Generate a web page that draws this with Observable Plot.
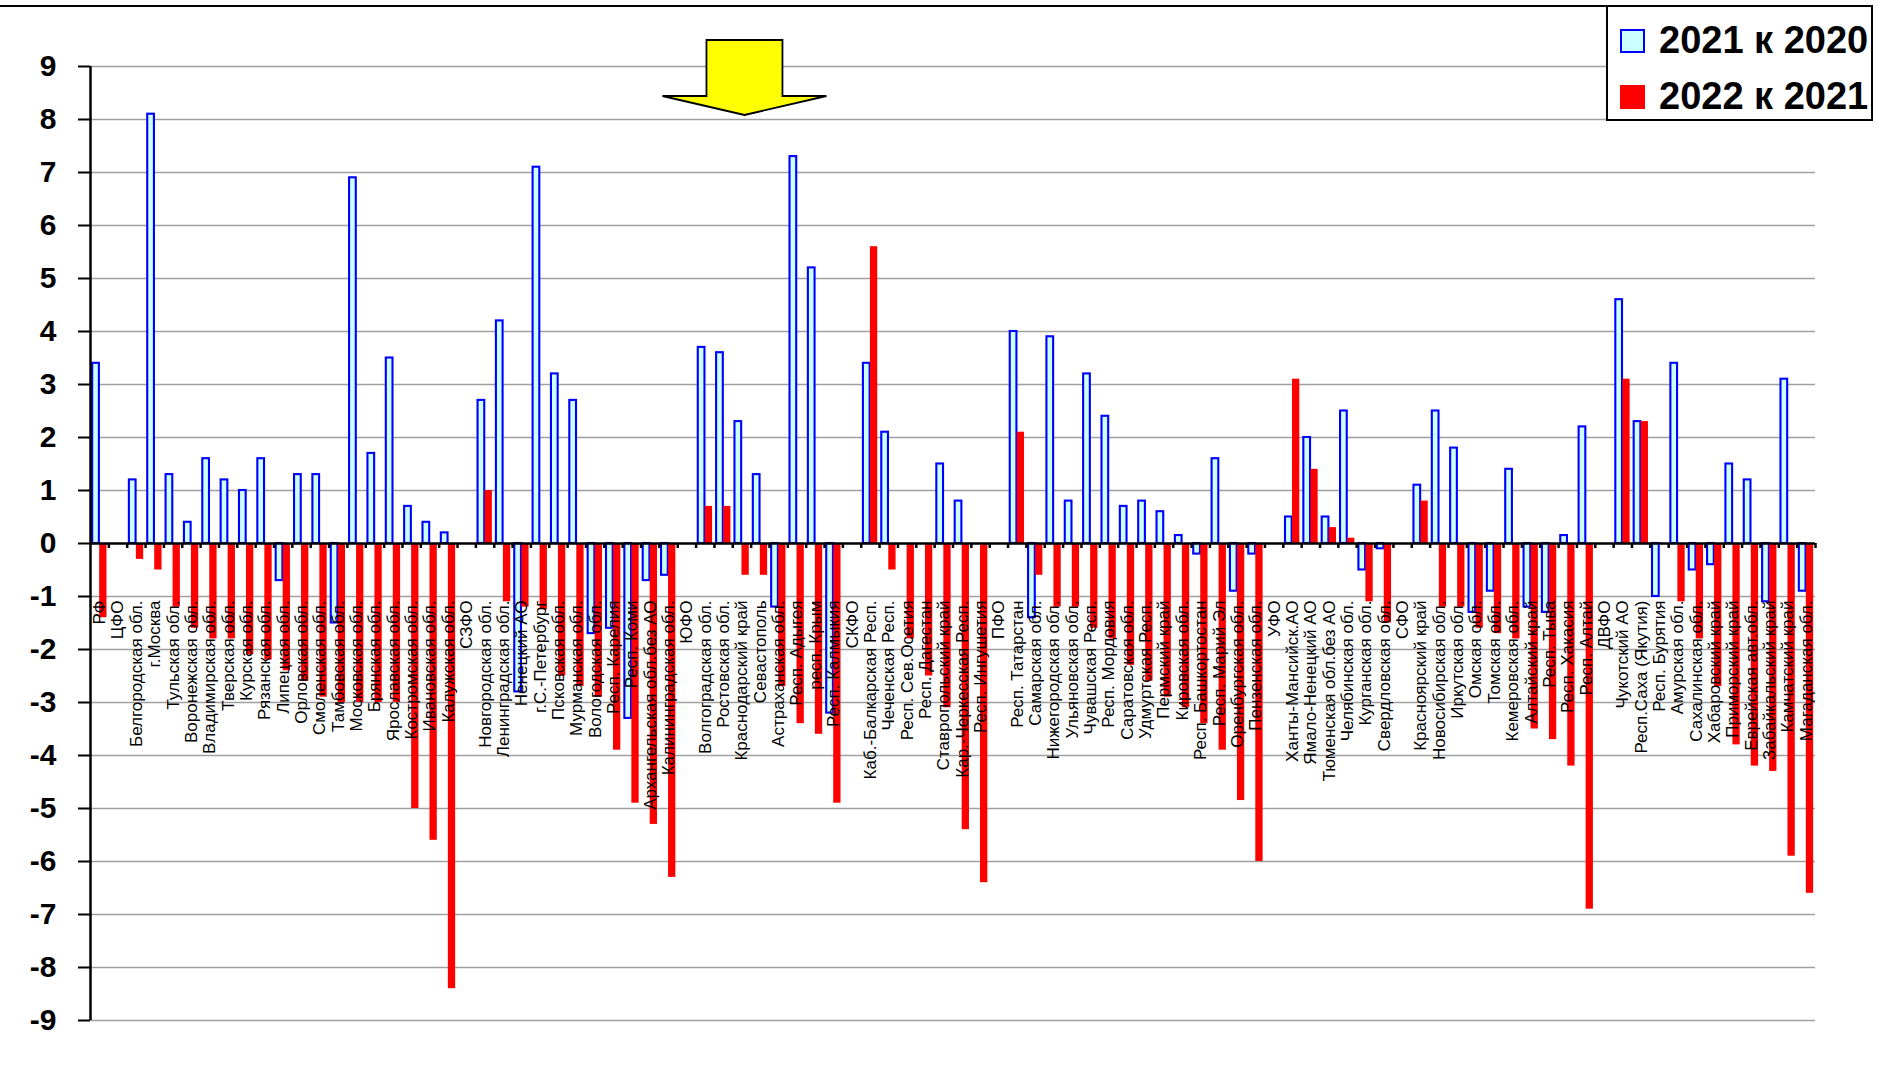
<!DOCTYPE html>
<html>
<head>
<meta charset="utf-8">
<script src="https://cdn.jsdelivr.net/npm/d3@7"></script>
<script src="https://cdn.jsdelivr.net/npm/@observablehq/plot@0.6"></script>
<style>
  html, body { margin: 0; padding: 0; background: #fff; }
  #wrap { position: relative; width: 1879px; height: 1074px; font-family: "Liberation Sans", Arial, sans-serif; }
  #topline { position: absolute; left: 0; top: 5px; width: 1607px; height: 2px; background: #000; }
  #legend { position: absolute; left: 1606px; top: 5px; width: 263px; height: 112px; border: 2px solid #000; background: #fff; box-sizing: content-box; }
  .li { position: absolute; left: 12px; display: flex; align-items: center; font-weight: bold; font-size: 38px; color: #000; white-space: nowrap; }
  .sw { width: 25px; height: 24px; margin-right: 14px; box-sizing: border-box; }
  svg [aria-label="y-axis tick label"] text { font-weight: bold; font-size: 30px; }
  svg [aria-label="y-axis tick"] path { stroke-width: 2; }
</style>
</head>
<body>
<div id="wrap">
  <div id="chart"></div>
  <div id="topline"></div>
  <div id="legend"></div>
</div>
<script>
const categories = [
  "РФ","ЦФО","Белгородская обл.","г.Москва","Тульская обл.","Воронежская обл.","Владимирская обл.","Тверская обл.","Курская обл.","Рязанская обл.","Липецкая обл.","Орловская обл.","Смоленская обл.","Тамбовская обл.","Московская обл.","Брянская обл.","Ярославская обл.","Костромская обл.","Ивановская обл.","Калужская обл.",
  "СЗФО","Новгородская обл.","Ленинградская обл.","Ненецкий АО","г.С.-Петербург","Псковская обл.","Мурманская обл.","Вологодская обл.","Респ. Карелия","Респ. Коми","Архангельская обл.без АО","Калининградская обл.",
  "ЮФО","Волгоградская обл.","Ростовская обл.","Краснодарский край","Севастополь","Астраханская обл.","Респ. Адыгея","респ. Крым","Респ. Калмыкия",
  "СКФО","Каб.-Балкарская Респ.","Чеченская Респ.","Респ. Сев.Осетия","Респ. Дагестан","Ставропольский край","Кар.-Черкесская Респ.","Респ. Ингушетия",
  "ПФО","Респ. Татарстан","Самарская обл.","Нижегородская обл.","Ульяновская обл.","Чувашская Респ.","Респ. Мордовия","Саратовская обл.","Удмуртская Респ.","Пермский край","Кировская обл.","Респ. Башкортостан","Респ. Марий Эл","Оренбургская обл.","Пензенская обл.",
  "УФО","Ханты-Мансийск.АО","Ямало-Ненецкий АО","Тюменская обл.без АО","Челябинская обл.","Курганская обл.","Свердловская обл.",
  "СФО","Красноярский край","Новосибирская обл.","Иркутская обл.","Омская обл.","Томская обл.","Кемеровская обл.","Алтайский край","Респ. Тыва","Респ. Хакасия","Респ. Алтай",
  "ДВФО","Чукотский АО","Респ.Саха (Якутия)","Респ. Бурятия","Амурская обл.","Сахалинская обл.","Хабаровский край","Приморский край","Еврейская авт.обл.","Забайкальский край","Камчатский край","Магаданская обл."
];

const series = ["2021 к 2020", "2022 к 2021"];

const values2021 = [
  3.4, null, 1.2, 8.1, 1.3, 0.4, 1.6, 1.2, 1.0, 1.6, -0.7, 1.3, 1.3, -1.5, 6.9, 1.7, 3.5, 0.7, 0.4, 0.2,
  null, 2.7, 4.2, -2.8, 7.1, 3.2, 2.7, -1.7, -1.6, -3.3, -0.7, -0.6,
  null, 3.7, 3.6, 2.3, 1.3, -1.2, 7.3, 5.2, -3.2,
  null, 3.4, 2.1, null, null, 1.5, 0.8, null,
  null, 4.0, -1.4, 3.9, 0.8, 3.2, 2.4, 0.7, 0.8, 0.6, 0.15, -0.2, 1.6, -0.9, -0.2,
  null, 0.5, 2.0, 0.5, 2.5, -0.5, -0.1,
  null, 1.1, 2.5, 1.8, -1.3, -0.9, 1.4, -1.2, -1.3, 0.15, 2.2,
  null, 4.6, 2.3, -1.0, 3.4, -0.5, -0.4, 1.5, 1.2, -1.1, 3.1, -0.9
];

const values2022 = [
  -1.4, null, -0.3, -0.5, -1.2, -1.6, -1.8, -1.8, -2.1, -2.2, -2.4, -2.6, -2.9, -3.0, -3.0, -3.0, -3.0, -5.0, -5.6, -8.4,
  null, 1.0, -1.1, -1.2, -1.25, -2.5, -2.7, -2.9, -3.9, -4.9, -5.3, -6.3,
  null, 0.7, 0.7, -0.6, -0.6, -2.7, -3.4, -3.6, -4.9,
  null, 5.6, -0.5, -1.8, -2.5, -3.1, -5.4, -6.4,
  null, 2.1, -0.6, -1.2, -1.2, -1.6, -1.8, -2.3, -2.6, -2.9, -3.1, -3.4, -3.9, -4.85, -6.0,
  null, 3.1, 1.4, 0.3, 0.1, -1.1, -1.5,
  null, 0.8, -1.2, -1.2, -1.6, -1.7, -1.8, -3.5, -3.7, -4.2, -6.9,
  null, 3.1, 2.3, null, -1.1, -1.8, -2.7, -3.8, -4.2, -4.3, -5.9, -6.6
];

const yTicks = [-9,-8,-7,-6,-5,-4,-3,-2,-1,0,1,2,3,4,5,6,7,8,9];
const arrowTarget = "Краснодарский край";

const colors = { fill2021: "#ccffff", stroke2021: "#0000ff", fill2022: "#ff0000" };

const W = 1879, H = 1074;
const mL = 90, mR = 64, mT = 66, mB = 54;
const bw = (W - mL - mR) / categories.length;
const half = 7.3;
const outer = bw / 2 - half;

const rows = categories.map((c, i) => ({ c, a: values2021[i], b: values2022[i] }));

const plot = Plot.plot({
  width: W,
  height: H,
  marginLeft: mL,
  marginRight: mR,
  marginTop: mT,
  marginBottom: mB,
  style: { fontFamily: "'Liberation Sans', Arial, sans-serif", background: "transparent", overflow: "visible" },
  x: { type: "band", domain: categories, padding: 0, axis: null },
  y: { domain: [yTicks[0], yTicks[yTicks.length - 1]], axis: null },
  marks: [
    Plot.ruleY(yTicks.filter(d => d !== 0), { stroke: "#a0a0a0", strokeWidth: 1.5 }),
    Plot.barY(rows.filter(d => d.a != null), {
      x: "c", y: "a", fill: colors.fill2021, stroke: colors.stroke2021, strokeWidth: 2.1,
      insetLeft: outer + 0.3, insetRight: bw / 2 + 0.3
    }),
    Plot.barY(rows.filter(d => d.b != null), {
      x: "c", y: "b", fill: colors.fill2022,
      insetLeft: bw / 2, insetRight: outer
    }),
    Plot.ruleY([0], { stroke: "#000", strokeWidth: 2.5 }),
    Plot.ruleX(categories, { x: d => d, y1: 0, y2: 0, dx: bw / 2, insetBottom: -5, stroke: "#000", strokeWidth: 2.5 }),
    Plot.ruleX([categories[0]], { x: d => d, y1: yTicks[0], y2: yTicks[yTicks.length - 1], dx: -bw / 2, stroke: "#000", strokeWidth: 2.5 }),
    Plot.axisY({
      ticks: yTicks, tickFormat: d => String(d), tickSize: 12, tickPadding: 22,
      fontSize: 30, fontWeight: "bold", label: null, strokeWidth: 2
    }),
    Plot.text(categories, {
      x: d => d, y: () => 0, text: d => d, rotate: -90, textAnchor: "end",
      dy: 57, fontSize: 17, fill: "#000"
    })
  ]
});

document.getElementById("chart").appendChild(plot);

// yellow arrow annotation pointing at the target category
const xs = plot.scale("x");
const cx = xs.apply(arrowTarget) + bw / 2 + 3;
const svg = d3.select(plot);
const shaftW = 76, shaftTop = 40, shaftBot = 96, headHalf = 82, tipY = 115;
svg.append("path")
  .attr("d", `M${cx - shaftW/2},${shaftTop} L${cx + shaftW/2},${shaftTop} L${cx + shaftW/2},${shaftBot} L${cx + headHalf},${shaftBot} L${cx},${tipY} L${cx - headHalf},${shaftBot} L${cx - shaftW/2},${shaftBot} Z`)
  .attr("fill", "#ffff00")
  .attr("stroke", "#000")
  .attr("stroke-width", 1.8)
  .attr("stroke-linejoin", "miter");

// legend
const legend = d3.select("#legend");
series.forEach((s, i) => {
  const item = legend.append("div").attr("class", "li").style("top", (i === 0 ? 12 : 68) + "px");
  item.append("div").attr("class", "sw")
    .style("background", i === 0 ? colors.fill2021 : colors.fill2022)
    .style("border", i === 0 ? `2.5px solid ${colors.stroke2021}` : "none");
  item.append("span").text(s);
});
</script>
</body>
</html>
